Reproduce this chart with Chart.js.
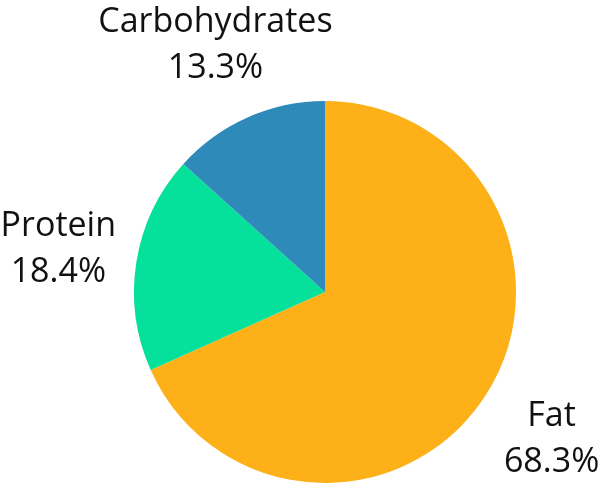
<!DOCTYPE html>
<html>
<head>
<meta charset="utf-8">
<script src="https://cdn.jsdelivr.net/npm/chart.js@4"></script>
<style>
  html, body { margin: 0; padding: 0; background: #fff; }
  #wrap { width: 600px; height: 490px; }
</style>
</head>
<body>
<div id="wrap"><canvas id="macroChart"></canvas></div>
<script>
// Macronutrient split
const categories = ['Fat', 'Protein', 'Carbohydrates'];
const shares = [68.3, 18.4, 13.3];
const sliceColors = ['#FDB017', '#05E09B', '#2E8BB9'];

// Draws "name / xx.x%" outside each slice, along its middle angle
const outsideLabels = {
  id: 'outsideLabels',
  afterDatasetsDraw(chart) {
    const ctx = chart.ctx;
    const meta = chart.getDatasetMeta(0);
    ctx.save();
    ctx.font = '34px "Open Sans", sans-serif';
    ctx.fillStyle = '#111';
    ctx.textAlign = 'center';
    ctx.textBaseline = 'middle';
    meta.data.forEach((arc, i) => {
      const mid = (arc.startAngle + arc.endAngle) / 2;
      const r = arc.outerRadius + 79;
      const x = arc.x + Math.cos(mid) * r;
      const y = arc.y + Math.sin(mid) * r;
      ctx.fillText(categories[i], x, y - 23);
      ctx.fillText(shares[i].toFixed(1) + '%', x, y + 23);
    });
    ctx.restore();
  }
};

const chart = new Chart(document.getElementById('macroChart'), {
  type: 'pie',
  data: {
    labels: categories,
    datasets: [{
      data: shares,
      backgroundColor: sliceColors,
      borderWidth: 0,
    }],
  },
  options: {
    responsive: true,
    maintainAspectRatio: false,
    animation: false,
    layout: { padding: { left: 134, right: 84, top: 101, bottom: 7 } },
    plugins: {
      legend: { display: false },
      tooltip: { enabled: false },
    },
  },
  plugins: [outsideLabels],
});
</script>
</body>
</html>
